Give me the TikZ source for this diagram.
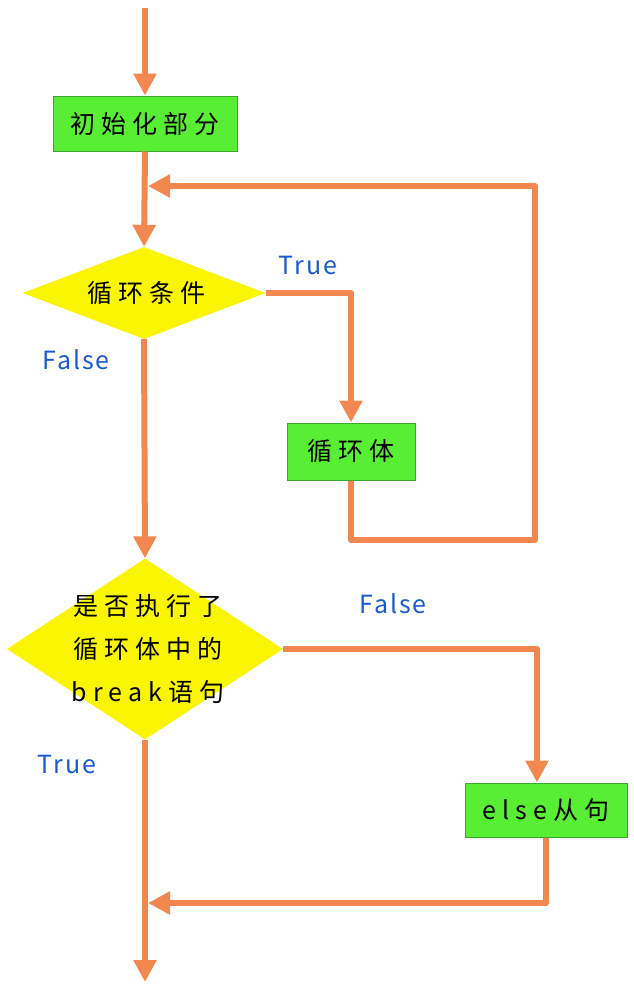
\documentclass[tikz,border=0pt]{standalone}
\usepackage{fontspec}
\setmainfont{Noto Sans CJK SC}
\newfontfamily\cjkfont[LetterSpace=24]{Noto Sans CJK SC}
\newfontfamily\lblfontfam[LetterSpace=8]{Noto Sans CJK SC}
\usetikzlibrary{arrows.meta,shapes.geometric}
\definecolor{lineor}{RGB}{242,136,80}
\definecolor{boxgreen}{RGB}{88,238,52}
\definecolor{boxborder}{RGB}{60,165,45}
\definecolor{dyellow}{RGB}{250,245,0}
\definecolor{lblblue}{RGB}{25,90,210}
\tikzset{
  conn/.style={draw=lineor, line width=6pt, line join=round},
  arr/.style={conn, -{Triangle[width=22pt,length=22pt]}},
  procbox/.style={draw=boxborder, line width=1pt, fill=boxgreen, inner sep=0pt,
    font=\cjkfont\fontsize{25}{30}\selectfont},
  decision/.style={diamond, fill=dyellow, inner sep=0pt},
  dtext/.style={align=center, inner sep=0pt, font=\cjkfont\fontsize{25}{43}\selectfont},
  lbl/.style={text=lblblue, inner sep=0pt, font=\lblfontfam\fontsize{25}{28}\selectfont},
}
\begin{document}
\begin{tikzpicture}[x=1pt,y=-1pt]
\useasboundingbox[fill=white] (0,0) rectangle (634,996);
% nodes
\node[procbox, minimum width=184pt, minimum height=55pt] (init) at (145,123.5) {初始化部分};
\node[decision, minimum width=243pt, minimum height=92pt] (d1) at (144,293) {};
\node[dtext] (d1t) at (146,293) {循环条件};
\node[procbox, minimum width=128pt, minimum height=57pt] (body) at (351,451.5) {循环体};
\node[decision, minimum width=276pt, minimum height=181pt] (d2) at (145,649) {};
\node[dtext] (d2t) at (148,649) {是否执行了\\循环体中的\\break语句};
\node[procbox, minimum width=162pt, minimum height=54pt] (els) at (546,810) {else从句};
% labels
\node[lbl] (t1) at (308,265) {True};
\node[lbl] (f1) at (76,360) {False};
\node[lbl] (f2) at (393,604) {False};
\node[lbl] (t2) at (67,764) {True};
% coordinates
\coordinate (start) at (145,8);
\coordinate (c1) at (535,540);
\coordinate (c2) at (535,186);
\coordinate (j1) at (148,186);
\coordinate (c3) at (545,903);
\coordinate (j2) at (148,903);
\coordinate (fin) at (145,982);
% connectors
\draw[arr] (start) -- (init.north);
\draw[arr] (init.south) -- (d1.north);
\draw[arr] (d1.east) -| (body.north);
\draw[arr] (body.south) |- (c1) -- (c2) -- (j1);
\draw[arr] (d1.south) -- (d2.north);
\draw[arr] (d2.east) -| ([xshift=-9pt]els.north);
\draw[arr] (els.south) |- (c3) -- (j2);
\draw[arr] (d2.south) -- (fin);
\end{tikzpicture}
\end{document}
